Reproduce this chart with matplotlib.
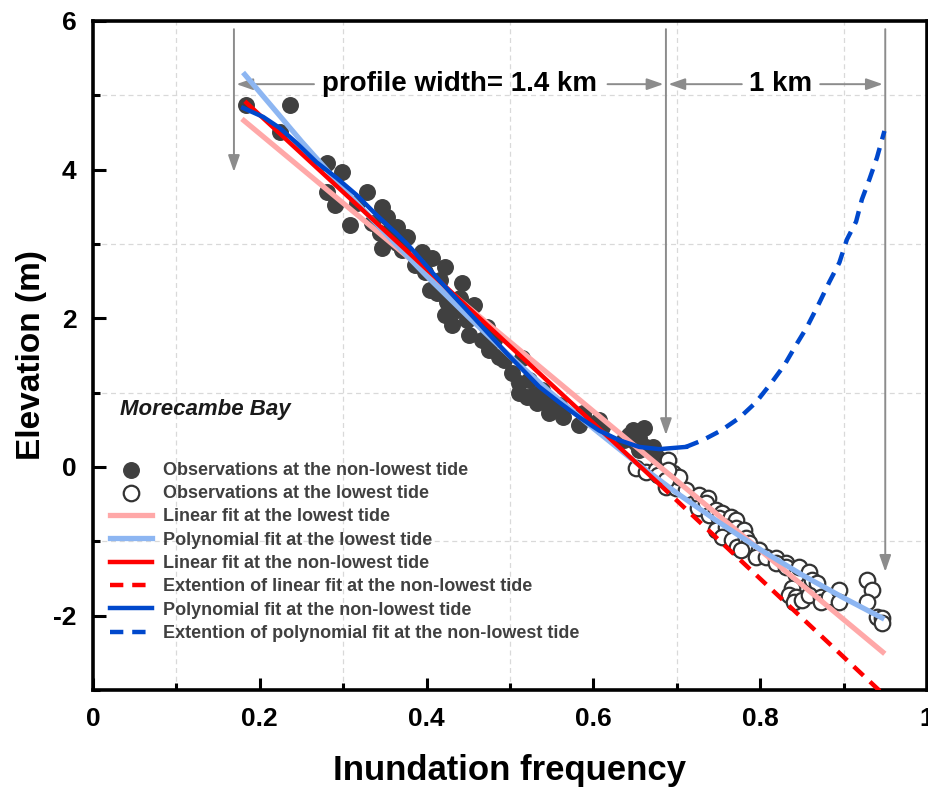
import numpy as np
import matplotlib.pyplot as plt
from matplotlib.ticker import MultipleLocator

plt.rcParams['font.family'] = ['Liberation Sans', 'DejaVu Sans']
plt.rcParams['axes.unicode_minus'] = False

# observations at the non-lowest tide (filled)
hi_x = [0.184, 0.236, 0.224, 0.280, 0.298, 0.280, 0.328, 0.316, 0.347, 0.352,
        0.335, 0.364, 0.344, 0.347, 0.371, 0.371, 0.376, 0.364, 0.395, 0.406,
        0.398, 0.422, 0.416, 0.443, 0.413, 0.425, 0.422, 0.431, 0.448, 0.457,
        0.436, 0.472, 0.467, 0.475, 0.487, 0.515, 0.503, 0.511, 0.520, 0.532,
        0.539, 0.544, 0.547, 0.563, 0.587, 0.583, 0.607, 0.610, 0.647, 0.655,
        0.643, 0.663, 0.673, 0.677, 0.651, 0.655, 0.671, 0.290, 0.308, 0.356,
        0.386, 0.404, 0.440, 0.451, 0.481, 0.493, 0.523, 0.511, 0.529, 0.559,
        0.589, 0.637, 0.661]
hi_y = [4.87, 4.87, 4.50, 4.09, 3.97, 3.70, 3.70, 3.55, 3.50, 3.36,
        3.28, 3.23, 3.15, 2.95, 3.10, 2.92, 3.10, 3.01, 2.89, 2.81,
        2.62, 2.69, 2.52, 2.48, 2.34, 2.22, 2.05, 1.91, 1.98, 2.18,
        2.11, 1.88, 1.71, 1.57, 1.48, 1.47, 1.27, 1.13, 0.94, 0.86,
        1.04, 0.90, 0.73, 0.67, 0.73, 0.57, 0.63, 0.54, 0.50, 0.39,
        0.43, 0.27, 0.20, 0.12, 0.32, 0.23, 0.27, 3.53, 3.26, 3.19,
        2.72, 2.38, 2.27, 1.78, 1.71, 1.44, 1.17, 1.00, 0.97, 0.83,
        0.66, 0.36, 0.52]

# observations at the lowest tide (open)
lo_x = [0.651, 0.663, 0.675, 0.689, 0.695, 0.687, 0.699, 0.711, 0.703, 0.689,
        0.677, 0.687, 0.727, 0.737, 0.725, 0.735, 0.739, 0.747, 0.754, 0.751,
        0.765, 0.771, 0.747, 0.759, 0.771, 0.781, 0.754, 0.766, 0.772, 0.783,
        0.787, 0.799, 0.777, 0.795, 0.807, 0.819, 0.831, 0.819, 0.831, 0.843,
        0.847, 0.859, 0.862, 0.868, 0.838, 0.835, 0.843, 0.841, 0.850, 0.859,
        0.873, 0.873, 0.883, 0.895, 0.895, 0.928, 0.934, 0.928, 0.940, 0.946,
        0.946]
lo_y = [-0.01, -0.07, -0.04, 0.09, -0.08, -0.27, -0.28, -0.31, -0.13, -0.04,
        -0.11, -0.17, -0.38, -0.42, -0.55, -0.48, -0.65, -0.58, -0.62, -0.69,
        -0.67, -0.71, -0.85, -0.81, -0.82, -0.85, -0.94, -0.98, -1.08, -0.96,
        -1.02, -1.12, -1.12, -1.21, -1.21, -1.22, -1.29, -1.29, -1.35, -1.45,
        -1.35, -1.41, -1.52, -1.56, -1.63, -1.72, -1.75, -1.82, -1.79, -1.72,
        -1.75, -1.82, -1.75, -1.66, -1.82, -1.52, -1.66, -1.82, -2.02, -2.03,
        -2.10]

# fitted curves
lin_lo_x = [0.181, 0.947]
lin_lo_y = [4.66, -2.49]

poly_lo_x = [0.182, 0.25, 0.30, 0.35, 0.40, 0.45, 0.50, 0.55, 0.60, 0.65,
             0.70, 0.75, 0.80, 0.85, 0.90, 0.946]
poly_lo_y = [5.28, 4.38, 3.75, 3.15, 2.57, 2.02, 1.49, 0.99, 0.52, 0.07,
             -0.35, -0.74, -1.11, -1.45, -1.76, -2.03]

lin_hi_x = [0.184, 0.679]
lin_hi_y = [4.90, -0.23]
lin_ext_x = [0.679, 0.947]
lin_ext_y = [-0.23, -3.05]

poly_hi_x = [0.180, 0.204, 0.224, 0.244, 0.268, 0.292, 0.316, 0.340, 0.364, 0.380,
             0.416, 0.455, 0.496, 0.535, 0.559, 0.583, 0.607, 0.631, 0.655, 0.679,
             0.711]
poly_hi_y = [4.83, 4.71, 4.56, 4.36, 4.10, 3.89, 3.66, 3.39, 3.14, 2.96,
             2.50, 2.03, 1.53, 1.08, 0.87, 0.67, 0.49, 0.36, 0.27, 0.24,
             0.27]
poly_ext_x = [0.711, 0.731, 0.753, 0.775, 0.795, 0.814, 0.829, 0.843, 0.856, 0.871,
              0.883, 0.895, 0.904, 0.915, 0.922, 0.931, 0.940, 0.949]
poly_ext_y = [0.27, 0.36, 0.49, 0.66, 0.87, 1.14, 1.37, 1.64, 1.88, 2.21,
              2.49, 2.75, 3.06, 3.30, 3.60, 3.87, 4.16, 4.52]

# profile markers
x_start, x_lowest, x_end = 0.169, 0.687, 0.950

fig = plt.figure(figsize=(9.29, 7.95), dpi=100)
ax = fig.add_axes([0.1001, 0.1321, 0.8977, 0.8415])

ax.scatter(hi_x, hi_y, s=125, color='#404040', zorder=3,
           label='Observations at the non-lowest tide')
ax.scatter(lo_x, lo_y, s=125, facecolor='white', edgecolor='#333333',
           linewidth=1.6, zorder=3, label='Observations at the lowest tide')

dash = (0, (3, 2))
ax.plot(lin_lo_x, lin_lo_y, color='#FFA8A8', lw=3.8, zorder=4,
        label='Linear fit at the lowest tide')
ax.plot(poly_lo_x, poly_lo_y, color='#8DB6F2', lw=3.8, zorder=4,
        label='Polynomial fit at the lowest tide')
ax.plot(lin_hi_x, lin_hi_y, color='#FF0000', lw=3.2, zorder=5,
        label='Linear fit at the non-lowest tide')
ax.plot(lin_ext_x, lin_ext_y, color='#FF0000', lw=3.2, ls=dash, zorder=5,
        label='Extention of linear fit at the non-lowest tide')
ax.plot(poly_hi_x, poly_hi_y, color='#0048CC', lw=3.2, zorder=5,
        label='Polynomial fit at the non-lowest tide')
ax.plot(poly_ext_x, poly_ext_y, color='#0048CC', lw=3.2, ls=dash, zorder=5,
        label='Extention of polynomial fit at the non-lowest tide')

# gray arrows
arr = dict(arrowstyle='-|>,head_length=1.0,head_width=0.35', color='#8C8C8C', lw=1.4,
           shrinkA=0, shrinkB=0)
for xv, y_bot in [(x_start, 3.97), (x_lowest, 0.43), (x_end, -1.41)]:
    ax.annotate('', xy=(xv, y_bot), xytext=(xv, 5.89), arrowprops=arr)

y_arr = 5.15
ax.annotate('', xy=(x_start + 0.003, y_arr), xytext=(0.265, y_arr), arrowprops=arr)
ax.annotate('', xy=(x_lowest - 0.003, y_arr), xytext=(0.617, y_arr), arrowprops=arr)
ax.annotate('', xy=(x_lowest + 0.003, y_arr), xytext=(0.778, y_arr), arrowprops=arr)
ax.annotate('', xy=(x_end - 0.003, y_arr), xytext=(0.872, y_arr), arrowprops=arr)
ax.text(0.4395, y_arr, 'profile width= 1.4 km', ha='center', va='center',
        fontsize=20, fontweight='bold')
ax.text(0.825, y_arr, '1 km', ha='center', va='center', fontsize=20, fontweight='bold')

ax.text(0.032, 0.77, 'Morecambe Bay', fontsize=16, fontweight='bold', style='italic',
        color='#1a1a1a', va='center')

ax.set_xlim(0, 1)
ax.set_ylim(-3, 6)
ax.xaxis.set_minor_locator(MultipleLocator(0.1))
ax.yaxis.set_major_locator(MultipleLocator(2))
ax.yaxis.set_minor_locator(MultipleLocator(1))
ax.set_xticks([0, 0.2, 0.4, 0.6, 0.8, 1.0])
ax.set_xticklabels(['0', '0.2', '0.4', '0.6', '0.8', '1'])
ax.tick_params(which='major', direction='in', length=9, width=2.2, labelsize=19, pad=12)
ax.tick_params(which='minor', direction='in', length=5, width=2.2)
for lab in ax.get_xticklabels() + ax.get_yticklabels():
    lab.set_fontweight('bold')
ax.grid(which='minor', ls=(0, (4, 3)), color='#d9d9d9', lw=0.9)
ax.grid(which='major', visible=False)
for sp in ax.spines.values():
    sp.set_linewidth(2.6)

ax.set_xlabel('Inundation frequency', fontsize=25, fontweight='bold')
ax.set_ylabel('Elevation (m)', fontsize=24, fontweight='bold')
ax.xaxis.set_label_coords(0.5, -0.095)
ax.yaxis.set_label_coords(-0.055, 0.5)

leg = ax.legend(loc='upper left', bbox_to_anchor=(0.020, 0.341), frameon=False,
                borderaxespad=0, borderpad=0, handlelength=2.33, handletextpad=0.6,
                labelspacing=0.35, prop={'weight': 'bold', 'size': 13})
for t in leg.get_texts():
    t.set_color('#404040')

fig.savefig('out.png', dpi=100)
